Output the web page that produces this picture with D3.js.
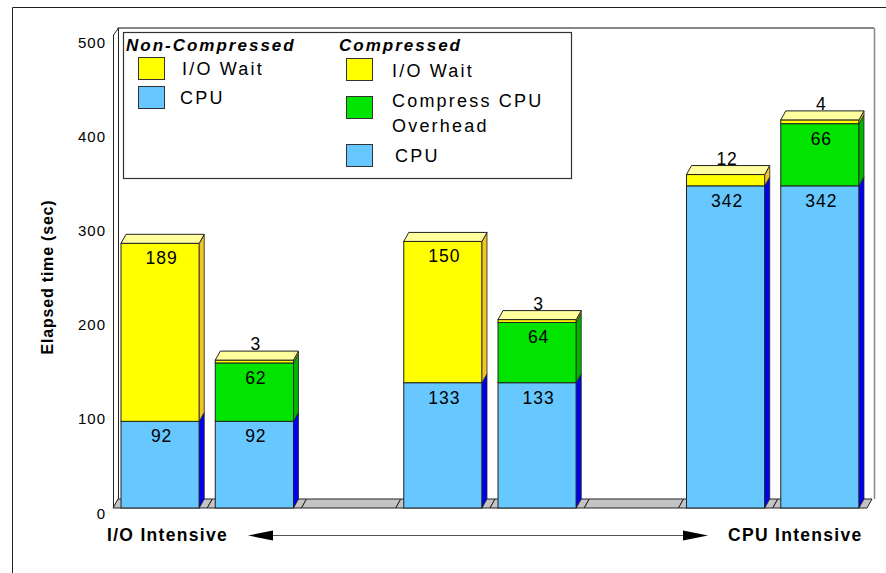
<!DOCTYPE html>
<html><head><meta charset="utf-8">
<script src="https://cdn.jsdelivr.net/npm/d3@7"></script>
<style>
body{margin:0;background:#fff}
svg{display:block}
text{font-family:"Liberation Sans",Arial,Helvetica,sans-serif;fill:#000}
</style>
</head><body>
<svg id="chart" width="886" height="573"></svg>
<script>
// ---- data ----
const slots = ["I/O Intensive – Non-Compressed", "I/O Intensive – Compressed", "gap 1",
               "Mixed – Non-Compressed", "Mixed – Compressed", "gap 2",
               "CPU Intensive – Non-Compressed", "CPU Intensive – Compressed"];
const barCategories = slots.filter(s => !s.startsWith("gap"));
const cpuValues      = [92, 92, 133, 133, 342, 342];
const overheadValues = [0, 62, 0, 64, 0, 66];
const ioWaitValues   = [189, 3, 150, 3, 12, 4];
const seriesKeys = ["cpu", "overhead", "io"];
const yTicks = [0, 100, 200, 300, 400, 500];
const yTitle = "Elapsed time (sec)";
const leftAxisLabel = "I/O Intensive";
const rightAxisLabel = "CPU Intensive";
const legendNonCompressed = ["I/O Wait", "CPU"];
const legendCompressed = ["I/O Wait", "Compress CPU\nOverhead", "CPU"];

// ---- style ----
const FONT = '"Liberation Sans",Arial,Helvetica,sans-serif';
const front = {cpu: "#66C8FF", overhead: "#00E400", io: "#FFFF00"};
const side  = {cpu: "#0000F0", overhead: "#00B400", io: "#F2C425"};
const top_  = {cpu: "#A8DEFF", overhead: "#80F080", io: "#FFFF9E"};
const DX = 5, DY = -9;

const svg = d3.select("#chart");
const y = d3.scaleLinear().domain([0, 500]).range([508, 37]);
const x = d3.scaleBand().domain(slots).range([113, 867]).paddingInner(0.17).paddingOuter(0.085);

// outer frame
svg.append("path").attr("d", "M12.5,573 L12.5,7.5 L886,7.5").attr("fill", "none").attr("stroke", "#222").attr("stroke-width", 1);

// back wall frame
svg.append("line").attr("x1", 117.5).attr("x2", 874).attr("y1", y(500) + DY).attr("y2", y(500) + DY).attr("stroke", "#111");
svg.append("line").attr("x1", 874.5).attr("x2", 874.5).attr("y1", y(500) + DY).attr("y2", y(0) + DY).attr("stroke", "#888").attr("stroke-width", 1.5);
// left wall slab
svg.append("path")
  .attr("d", `M113.5,${y(0)} L113.5,${y(500) - 2} L${113.5 + DX},${y(500) + DY} L${113.5 + DX},${y(0) + DY} Z`)
  .attr("fill", "#fff").attr("stroke", "#222").attr("stroke-width", 1);

// floor: one parallelogram per slot
const step = x.step();
slots.forEach((s, i) => {
  const x0 = 113 + i * step, x1 = 113 + (i + 1) * step;
  svg.append("path")
    .attr("d", `M${x0},${y(0)} L${x0 + DX},${y(0) + DY} L${x1 + DX},${y(0) + DY} L${x1},${y(0)} Z`)
    .attr("fill", "#C4C4C4").attr("stroke", "#222").attr("stroke-width", 1);
});

// bars
const rows = barCategories.map((c, i) => ({cat: c, cpu: cpuValues[i], overhead: overheadValues[i], io: ioWaitValues[i]}));
const stacked = d3.stack().keys(seriesKeys)(rows);
rows.forEach((r, i) => {
  const bx = x(r.cat), bw = x.bandwidth();
  const g = svg.append("g");
  const segs = seriesKeys.map((k, ki) => ({key: k, y0: stacked[ki][i][0], y1: stacked[ki][i][1], v: r[k]})).filter(s => s.v > 0);
  segs.forEach(s => {
    const yt = y(s.y1), yb = y(s.y0);
    g.append("rect").attr("x", bx).attr("y", yt).attr("width", bw).attr("height", yb - yt)
      .attr("fill", front[s.key]).attr("stroke", "#222").attr("stroke-width", 1);
    g.append("path")
      .attr("d", `M${bx + bw},${yb} L${bx + bw},${yt} L${bx + bw + DX},${yt + DY} L${bx + bw + DX},${yb + DY} Z`)
      .attr("fill", side[s.key]).attr("stroke", "#222").attr("stroke-width", 0.8);
  });
  const topSeg = segs[segs.length - 1];
  const yt = y(topSeg.y1);
  g.append("path")
    .attr("d", `M${bx},${yt} L${bx + DX},${yt + DY} L${bx + bw + DX},${yt + DY} L${bx + bw},${yt} Z`)
    .attr("fill", top_[topSeg.key]).attr("stroke", "#222").attr("stroke-width", 1);
  segs.forEach(s => {
    const inside = s.v >= 20;
    g.append("text")
      .attr("x", bx + bw / 2 + 1.5)
      .attr("y", inside ? y(s.y1) + 21 : y(s.y1) - 10)
      .attr("text-anchor", "middle")
      .attr("font-size", 17.5).attr("letter-spacing", 1)
      .text(s.v);
  });
});

// y tick labels
svg.append("g").selectAll("text").data(yTicks).join("text")
  .attr("x", 106).attr("y", d => y(d) + 10.5)
  .attr("text-anchor", "end").attr("font-size", 15).attr("letter-spacing", 1)
  .text(d => d);

// y title
svg.append("text")
  .attr("transform", `translate(53,277) rotate(-90)`)
  .attr("text-anchor", "middle").attr("font-size", 16).attr("font-weight", "bold").attr("letter-spacing", 0.8)
  .text(yTitle);

// bottom labels + arrow
svg.append("text").attr("x", 107).attr("y", 541).attr("font-size", 17.5).attr("font-weight", "bold").attr("letter-spacing", 1.3).text(leftAxisLabel);
svg.append("text").attr("x", 728).attr("y", 541).attr("font-size", 17.5).attr("font-weight", "bold").attr("letter-spacing", 1.3).text(rightAxisLabel);
svg.append("line").attr("x1", 260).attr("x2", 696).attr("y1", 535.5).attr("y2", 535.5).attr("stroke", "#555").attr("stroke-width", 1);
svg.append("path").attr("d", "M248,535.5 L273,530.5 L273,540.5 Z").attr("fill", "#000");
svg.append("path").attr("d", "M708,535.5 L683,530.5 L683,540.5 Z").attr("fill", "#000");

// legend
const lg = svg.append("g");
lg.append("rect").attr("x", 123.5).attr("y", 32.5).attr("width", 448).attr("height", 146)
  .attr("fill", "#fff").attr("stroke", "#333").attr("stroke-width", 1.2);
lg.append("text").attr("x", 126).attr("y", 51).attr("font-size", 17).attr("font-weight", "bold").attr("font-style", "italic").attr("letter-spacing", 2).text("Non-Compressed");
lg.append("text").attr("x", 339).attr("y", 51).attr("font-size", 17).attr("font-weight", "bold").attr("font-style", "italic").attr("letter-spacing", 2).text("Compressed");
const ncItems = [{key: "io", label: legendNonCompressed[0], sy: 57, ty: 75, tx: 182},
                 {key: "cpu", label: legendNonCompressed[1], sy: 86, ty: 104, tx: 180}];
ncItems.forEach(it => {
  lg.append("rect").attr("x", 138.5).attr("y", it.sy + 0.5).attr("width", 26).attr("height", 22)
    .attr("fill", front[it.key]).attr("stroke", "#333").attr("stroke-width", 1);
  lg.append("text").attr("x", it.tx).attr("y", it.ty).attr("font-size", 18).attr("letter-spacing", 2.2).text(it.label);
});
const cItems = [{key: "io", label: legendCompressed[0], sy: 58, ty: 77, tx: 392},
                {key: "overhead", label: legendCompressed[1], sy: 96, ty: 107, tx: 392},
                {key: "cpu", label: legendCompressed[2], sy: 144, ty: 162, tx: 395}];
cItems.forEach(it => {
  lg.append("rect").attr("x", 346.5).attr("y", it.sy + 0.5).attr("width", 26).attr("height", 22)
    .attr("fill", front[it.key]).attr("stroke", "#333").attr("stroke-width", 1);
  const t = lg.append("text").attr("x", it.tx).attr("y", it.ty).attr("font-size", 18).attr("letter-spacing", 2.2);
  it.label.split("\n").forEach((ln, li) => {
    t.append("tspan").attr("x", it.tx).attr("dy", li === 0 ? 0 : 25).text(ln);
  });
});
</script>
</body></html>
